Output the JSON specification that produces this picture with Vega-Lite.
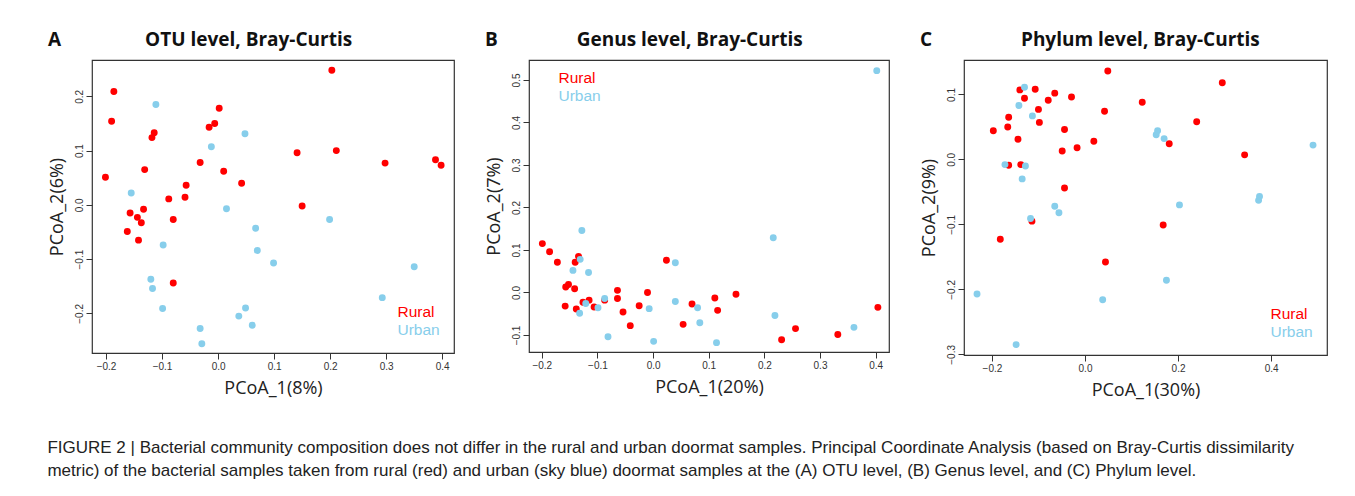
{
  "$schema": "https://vega.github.io/schema/vega-lite/v6.json",
  "padding": {"left": 47, "top": 30, "right": 5, "bottom": 5},
  "background": "white",
  "title": {
    "text": ["FIGURE 2 | Bacterial community composition does not differ in the rural and urban doormat samples. Principal Coordinate Analysis (based on Bray-Curtis dissimilarity", "metric) of the bacterial samples taken from rural (red) and urban (sky blue) doormat samples at the (A) OTU level, (B) Genus level, and (C) Phylum level."],
    "orient": "bottom", "anchor": "start", "frame": "bounds", "font": "Liberation Sans", "fontSize": 17, "fontWeight": "normal",
    "color": "#222", "offset": 40, "lineHeight": 23
  },
  "config": {
    "view": {"stroke": "#333", "strokeWidth": 1.2},
    "font": "Open Sans",
    "axis": {"grid": false, "domain": false, "tickColor": "#333", "tickSize": 6, "labelFontSize": 10, "labelColor": "#333", "titleFontSize": 18, "titleFontWeight": "normal", "titleColor": "#222", "titleFont": "Open Sans", "labelFont": "Liberation Sans"},
    "axisY": {"labelAngle": -90, "labelAlign": "center", "labelBaseline": "bottom", "titlePadding": 8},
    "axisX": {"titlePadding": 8},
    "title": {"font": "Open Sans", "fontSize": 19, "fontWeight": "bold", "color": "#111", "anchor": "start", "frame": "bounds", "offset": 10},
    "legend": {"symbolOpacity": 0, "symbolSize": 0, "labelFontSize": 15.5, "title": null, "padding": 2, "rowPadding": 1, "labelFont": "Liberation Sans"},
    "concat": {"spacing": 29}
  },
  "datasets": {
    "a": [
      {"x": -0.186, "y": 0.209, "g": "Rural"}, {"x": -0.190, "y": 0.154, "g": "Rural"}, {"x": -0.201, "y": 0.051, "g": "Rural"},
      {"x": -0.114, "y": 0.133, "g": "Rural"}, {"x": -0.118, "y": 0.124, "g": "Rural"}, {"x": -0.131, "y": 0.065, "g": "Rural"},
      {"x": -0.157, "y": -0.015, "g": "Rural"}, {"x": -0.144, "y": -0.023, "g": "Rural"}, {"x": -0.137, "y": -0.033, "g": "Rural"},
      {"x": -0.133, "y": -0.008, "g": "Rural"}, {"x": -0.162, "y": -0.049, "g": "Rural"}, {"x": -0.142, "y": -0.065, "g": "Rural"},
      {"x": -0.088, "y": 0.011, "g": "Rural"}, {"x": -0.080, "y": -0.027, "g": "Rural"}, {"x": -0.080, "y": -0.144, "g": "Rural"},
      {"x": -0.059, "y": 0.014, "g": "Rural"}, {"x": -0.057, "y": 0.036, "g": "Rural"}, {"x": -0.032, "y": 0.078, "g": "Rural"},
      {"x": -0.016, "y": 0.143, "g": "Rural"}, {"x": -0.006, "y": 0.150, "g": "Rural"}, {"x": 0.002, "y": 0.178, "g": "Rural"},
      {"x": 0.010, "y": 0.062, "g": "Rural"}, {"x": 0.042, "y": 0.040, "g": "Rural"}, {"x": 0.141, "y": 0.096, "g": "Rural"},
      {"x": 0.150, "y": -0.002, "g": "Rural"}, {"x": 0.203, "y": 0.248, "g": "Rural"}, {"x": 0.211, "y": 0.100, "g": "Rural"},
      {"x": 0.298, "y": 0.077, "g": "Rural"}, {"x": 0.388, "y": 0.083, "g": "Rural"}, {"x": 0.398, "y": 0.073, "g": "Rural"},
      {"x": -0.111, "y": 0.185, "g": "Urban"}, {"x": -0.155, "y": 0.022, "g": "Urban"}, {"x": -0.098, "y": -0.074, "g": "Urban"},
      {"x": -0.120, "y": -0.137, "g": "Urban"}, {"x": -0.117, "y": -0.154, "g": "Urban"}, {"x": -0.099, "y": -0.191, "g": "Urban"},
      {"x": -0.032, "y": -0.228, "g": "Urban"}, {"x": -0.029, "y": -0.256, "g": "Urban"}, {"x": -0.012, "y": 0.107, "g": "Urban"},
      {"x": 0.048, "y": 0.131, "g": "Urban"}, {"x": 0.015, "y": -0.007, "g": "Urban"}, {"x": 0.067, "y": -0.043, "g": "Urban"},
      {"x": 0.070, "y": -0.084, "g": "Urban"}, {"x": 0.099, "y": -0.107, "g": "Urban"}, {"x": 0.037, "y": -0.205, "g": "Urban"},
      {"x": 0.049, "y": -0.190, "g": "Urban"}, {"x": 0.061, "y": -0.222, "g": "Urban"}, {"x": 0.199, "y": -0.027, "g": "Urban"},
      {"x": 0.293, "y": -0.171, "g": "Urban"}, {"x": 0.350, "y": -0.114, "g": "Urban"}
    ],
    "b": [
      {"x": -0.199, "y": 0.115, "g": "Rural"}, {"x": -0.186, "y": 0.096, "g": "Rural"}, {"x": -0.172, "y": 0.071, "g": "Rural"},
      {"x": -0.157, "y": 0.013, "g": "Rural"}, {"x": -0.152, "y": 0.019, "g": "Rural"}, {"x": -0.141, "y": 0.009, "g": "Rural"},
      {"x": -0.140, "y": 0.071, "g": "Rural"}, {"x": -0.134, "y": 0.085, "g": "Rural"}, {"x": -0.158, "y": -0.032, "g": "Rural"},
      {"x": -0.138, "y": -0.039, "g": "Rural"}, {"x": -0.126, "y": -0.023, "g": "Rural"}, {"x": -0.115, "y": -0.018, "g": "Rural"},
      {"x": -0.106, "y": -0.034, "g": "Rural"}, {"x": -0.087, "y": -0.018, "g": "Rural"}, {"x": -0.064, "y": 0.005, "g": "Rural"},
      {"x": -0.064, "y": -0.014, "g": "Rural"}, {"x": -0.054, "y": -0.046, "g": "Rural"}, {"x": -0.041, "y": -0.078, "g": "Rural"},
      {"x": -0.025, "y": -0.031, "g": "Rural"}, {"x": -0.010, "y": 0.000, "g": "Rural"}, {"x": 0.024, "y": 0.076, "g": "Rural"},
      {"x": 0.054, "y": -0.075, "g": "Rural"}, {"x": 0.070, "y": -0.027, "g": "Rural"}, {"x": 0.111, "y": -0.013, "g": "Rural"},
      {"x": 0.116, "y": -0.042, "g": "Rural"}, {"x": 0.149, "y": -0.004, "g": "Rural"}, {"x": 0.231, "y": -0.111, "g": "Rural"},
      {"x": 0.256, "y": -0.085, "g": "Rural"}, {"x": 0.332, "y": -0.099, "g": "Rural"}, {"x": 0.404, "y": -0.035, "g": "Rural"},
      {"x": -0.128, "y": 0.146, "g": "Urban"}, {"x": -0.131, "y": 0.078, "g": "Urban"}, {"x": -0.144, "y": 0.052, "g": "Urban"},
      {"x": -0.116, "y": 0.047, "g": "Urban"}, {"x": -0.132, "y": -0.049, "g": "Urban"}, {"x": -0.121, "y": -0.026, "g": "Urban"},
      {"x": -0.099, "y": -0.036, "g": "Urban"}, {"x": -0.087, "y": -0.014, "g": "Urban"}, {"x": -0.081, "y": -0.104, "g": "Urban"},
      {"x": -0.007, "y": -0.038, "g": "Urban"}, {"x": 0.001, "y": -0.115, "g": "Urban"}, {"x": 0.040, "y": 0.070, "g": "Urban"},
      {"x": 0.040, "y": -0.021, "g": "Urban"}, {"x": 0.080, "y": -0.036, "g": "Urban"}, {"x": 0.084, "y": -0.071, "g": "Urban"},
      {"x": 0.114, "y": -0.118, "g": "Urban"}, {"x": 0.216, "y": 0.129, "g": "Urban"}, {"x": 0.219, "y": -0.054, "g": "Urban"},
      {"x": 0.361, "y": -0.082, "g": "Urban"}, {"x": 0.402, "y": 0.522, "g": "Urban"}
    ],
    "c": [
      {"x": -0.197, "y": 0.044, "g": "Rural"}, {"x": -0.164, "y": 0.065, "g": "Rural"}, {"x": -0.166, "y": 0.050, "g": "Rural"},
      {"x": -0.144, "y": 0.031, "g": "Rural"}, {"x": -0.164, "y": -0.009, "g": "Rural"}, {"x": -0.138, "y": -0.008, "g": "Rural"},
      {"x": -0.182, "y": -0.123, "g": "Rural"}, {"x": -0.140, "y": 0.107, "g": "Rural"}, {"x": -0.130, "y": 0.094, "g": "Rural"},
      {"x": -0.107, "y": 0.108, "g": "Rural"}, {"x": -0.100, "y": 0.077, "g": "Rural"}, {"x": -0.098, "y": 0.057, "g": "Rural"},
      {"x": -0.079, "y": 0.091, "g": "Rural"}, {"x": -0.065, "y": 0.102, "g": "Rural"}, {"x": -0.044, "y": 0.046, "g": "Rural"},
      {"x": -0.029, "y": 0.096, "g": "Rural"}, {"x": -0.049, "y": 0.013, "g": "Rural"}, {"x": -0.017, "y": 0.018, "g": "Rural"},
      {"x": -0.044, "y": -0.044, "g": "Rural"}, {"x": -0.114, "y": -0.095, "g": "Rural"}, {"x": 0.019, "y": 0.028, "g": "Rural"},
      {"x": 0.042, "y": 0.074, "g": "Rural"}, {"x": 0.049, "y": 0.136, "g": "Rural"}, {"x": 0.044, "y": -0.158, "g": "Rural"},
      {"x": 0.123, "y": 0.088, "g": "Rural"}, {"x": 0.168, "y": -0.101, "g": "Rural"}, {"x": 0.181, "y": 0.024, "g": "Rural"},
      {"x": 0.240, "y": 0.058, "g": "Rural"}, {"x": 0.295, "y": 0.118, "g": "Rural"}, {"x": 0.343, "y": 0.007, "g": "Rural"},
      {"x": -0.232, "y": -0.207, "g": "Urban"}, {"x": -0.172, "y": -0.008, "g": "Urban"}, {"x": -0.128, "y": -0.010, "g": "Urban"},
      {"x": -0.135, "y": -0.030, "g": "Urban"}, {"x": -0.130, "y": 0.111, "g": "Urban"}, {"x": -0.142, "y": 0.083, "g": "Urban"},
      {"x": -0.113, "y": 0.067, "g": "Urban"}, {"x": -0.117, "y": -0.091, "g": "Urban"}, {"x": -0.065, "y": -0.072, "g": "Urban"},
      {"x": -0.056, "y": -0.082, "g": "Urban"}, {"x": -0.148, "y": -0.285, "g": "Urban"}, {"x": 0.038, "y": -0.216, "g": "Urban"},
      {"x": 0.156, "y": 0.044, "g": "Urban"}, {"x": 0.153, "y": 0.038, "g": "Urban"}, {"x": 0.170, "y": 0.032, "g": "Urban"},
      {"x": 0.175, "y": -0.186, "g": "Urban"}, {"x": 0.203, "y": -0.070, "g": "Urban"}, {"x": 0.375, "y": -0.057, "g": "Urban"},
      {"x": 0.373, "y": -0.063, "g": "Urban"}, {"x": 0.490, "y": 0.022, "g": "Urban"}
    ]
  },
  "hconcat": [
    {
      "title": {"text": "A\u00a0\u00a0\u00a0\u00a0\u00a0\u00a0\u00a0\u00a0\u00a0\u00a0\u00a0\u00a0\u00a0\u00a0\u00a0\u00a0\u00a0OTU level, Bray-Curtis"},
      "width": 362, "height": 293,
      "data": {"name": "a"},
      "mark": {"type": "circle", "size": 48, "opacity": 1},
      "encoding": {
        "x": {"field": "x", "type": "quantitative", "scale": {"domain": [-0.225, 0.421], "nice": false, "zero": false}, "axis": {"values": [-0.2, -0.1, 0, 0.1, 0.2, 0.3, 0.4], "format": ".1f", "title": "PCoA_1(8%)"}},
        "y": {"field": "y", "type": "quantitative", "scale": {"domain": [-0.273, 0.267], "nice": false, "zero": false}, "axis": {"values": [-0.2, -0.1, 0, 0.1, 0.2], "format": ".1f", "title": "PCoA_2(6%)"}},
        "color": {"field": "g", "type": "nominal", "scale": {"domain": ["Rural", "Urban"], "range": ["#ff0000", "#87ceeb"]},
          "legend": {"orient": "bottom-right", "offset": 12, "encode": {"labels": {"update": {"fill": [{"test": "datum.value === 'Rural'", "value": "#ff0000"}, {"value": "#87ceeb"}]}}}}}
      }
    },
    {
      "title": {"text": "B\u00a0\u00a0\u00a0\u00a0\u00a0\u00a0\u00a0\u00a0\u00a0\u00a0\u00a0\u00a0\u00a0\u00a0\u00a0\u00a0Genus level, Bray-Curtis"},
      "width": 360, "height": 292,
      "data": {"name": "b"},
      "mark": {"type": "circle", "size": 48, "opacity": 1},
      "encoding": {
        "x": {"field": "x", "type": "quantitative", "scale": {"domain": [-0.223, 0.424], "nice": false, "zero": false}, "axis": {"values": [-0.2, -0.1, 0, 0.1, 0.2, 0.3, 0.4], "format": ".1f", "title": "PCoA_1(20%)"}},
        "y": {"field": "y", "type": "quantitative", "scale": {"domain": [-0.14, 0.547], "nice": false, "zero": false}, "axis": {"values": [-0.1, 0, 0.1, 0.2, 0.3, 0.4, 0.5], "format": ".1f", "title": "PCoA_2(7%)"}},
        "color": {"field": "g", "type": "nominal", "scale": {"domain": ["Rural", "Urban"], "range": ["#ff0000", "#87ceeb"]},
          "legend": {"orient": "top-left", "offset": 8, "encode": {"labels": {"update": {"fill": [{"test": "datum.value === 'Rural'", "value": "#ff0000"}, {"value": "#87ceeb"}]}}}}}
      }
    },
    {
      "title": {"text": "C\u00a0\u00a0\u00a0\u00a0\u00a0\u00a0\u00a0\u00a0\u00a0\u00a0\u00a0\u00a0\u00a0\u00a0\u00a0\u00a0\u00a0\u00a0Phylum level, Bray-Curtis"},
      "width": 363, "height": 295,
      "data": {"name": "c"},
      "mark": {"type": "circle", "size": 48, "opacity": 1},
      "encoding": {
        "x": {"field": "x", "type": "quantitative", "scale": {"domain": [-0.26, 0.52], "nice": false, "zero": false}, "axis": {"values": [-0.2, 0, 0.2, 0.4], "format": ".1f", "title": "PCoA_1(30%)"}},
        "y": {"field": "y", "type": "quantitative", "scale": {"domain": [-0.301, 0.153], "nice": false, "zero": false}, "axis": {"values": [-0.3, -0.2, -0.1, 0, 0.1], "format": ".1f", "title": "PCoA_2(9%)"}},
        "color": {"field": "g", "type": "nominal", "scale": {"domain": ["Rural", "Urban"], "range": ["#ff0000", "#87ceeb"]},
          "legend": {"orient": "bottom-right", "offset": 12, "encode": {"labels": {"update": {"fill": [{"test": "datum.value === 'Rural'", "value": "#ff0000"}, {"value": "#87ceeb"}]}}}}}
      }
    }
  ],
  "resolve": {"scale": {"color": "independent"}}
}
